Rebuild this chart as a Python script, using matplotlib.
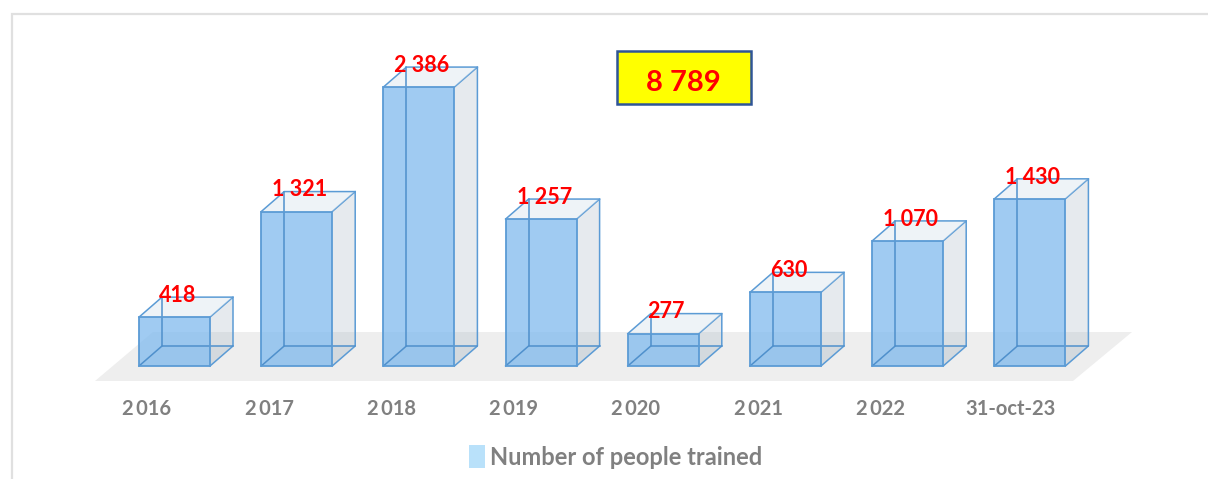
import matplotlib
matplotlib.use('Agg')
import matplotlib.pyplot as plt
from matplotlib.patches import Polygon, Rectangle, Patch
from matplotlib.transforms import Affine2D

# values
categories = ['2\u2009016', '2\u2009017', '2\u2009018', '2\u2009019', '2\u2009020', '2\u2009021', '2\u2009022', '31-oct-23']
people_trained = [418, 1321, 2386, 1257, 277, 630, 1070, 1430]
value_labels = ['418', '1 321', '2 386', '1 257', '277', '630', '1 070', '1 430']
total_label = '8 789'
legend_label = 'Number of people trained'

W, H = 1208, 479
plt.rcParams['font.family'] = ['Lato', 'DejaVu Sans']

fig = plt.figure(figsize=(W / 100, H / 100), dpi=100)
ax = fig.add_axes([0, 0, 1, 1])

# axis limits chosen so bars land where they do in the picture
x0, x_step = 174.5, 122.2
y0, y_scale = 366, 0.1169
ax.set_xlim(-x0 / x_step, (W - x0) / x_step)
ax.set_ylim((y0 - H) / y_scale, y0 / y_scale)
ax.axis('off')

# pixel coords with the origin top left, for the frame, floor and total box
px = Affine2D().scale(1, -1).translate(0, H)

edge = '#5b9bd5'
bar_w = 71 / x_step
dx = 23 / x_step
dy = 20 / y_scale

# outer frame
ax.add_patch(Polygon([(12, 479), (12, 14), (1208, 14)], closed=False, fill=False,
                     edgecolor='#e0e0e0', linewidth=1.6, transform=px, zorder=1))

# floor
ax.add_patch(Polygon([(95, 381), (153, 332), (1132, 332), (1073, 381)], closed=True,
                     facecolor='#eeeeee', edgecolor='none', transform=px, zorder=1))

for i, v in enumerate(people_trained):
    l = i - bar_w / 2
    r = i + bar_w / 2
    # floor of the box
    ax.add_patch(Polygon([(l, 0), (r, 0), (r + dx, dy), (l + dx, dy)], facecolor='#a6b7c5',
                         alpha=0.12, edgecolor='none', zorder=2))
    # right side
    ax.add_patch(Polygon([(r, 0), (r + dx, dy), (r + dx, v + dy), (r, v)], facecolor='#a6b7c5',
                         alpha=0.28, edgecolor='none', zorder=3))
    ax.plot([r, r + dx, r + dx, r], [0, dy, v + dy, v], color=edge, lw=1.1, zorder=3)
    # top
    ax.add_patch(Polygon([(l, v), (r, v), (r + dx, v + dy), (l + dx, v + dy)], facecolor='#d5e2ec',
                         alpha=0.4, edgecolor='none', zorder=3))
    ax.plot([l, l + dx, r + dx], [v, v + dy, v + dy], color=edge, lw=1.1, zorder=3)
    # front
    ax.bar(i, v, width=bar_w, color='#80baee', alpha=0.75, zorder=4)
    # back edges show through the front face
    ax.plot([l + dx, l + dx, r + dx], [v + dy, dy, dy], color='#4f90cc', lw=1.1, zorder=5)
    ax.plot([l, l + dx], [0, dy], color='#4f90cc', lw=1.1, zorder=5)
    ax.add_patch(Rectangle((l, 0), bar_w, v, fill=False, edgecolor=edge, lw=1.3, zorder=5))
    # value label
    ax.text(i + 0.025, v + dy + 15, value_labels[i], color='#ff0000', fontsize=15.5, fontweight='bold',
            ha='center', va='center', zorder=6)
    # category label
    label_x = i - 0.225 if i < 7 else i - 0.155
    ax.text(label_x, -368, categories[i], color='#808080', fontsize=14.5, fontweight='bold',
            ha='center', va='center', zorder=6)

# total box
ax.add_patch(Rectangle((617, 51), 134, 53, facecolor='#ffff00', edgecolor='#2f5597', lw=1.8,
                       transform=px, zorder=6))
ax.text(683, 83, total_label, color='#ff0000', fontsize=21, fontweight='bold', ha='center', va='center',
        transform=px, zorder=7)

handles = [Patch(facecolor='#b9e1fa', edgecolor='none', label=legend_label)]
leg = ax.legend(handles=handles, loc='center', bbox_to_anchor=(615.5 / W, 1 - 457 / H), frameon=False,
                prop={'size': 17, 'weight': 'bold'}, labelcolor='#808080', handlelength=0.7,
                handleheight=1.1, handletextpad=0.2)

fig.savefig('out.png', dpi=100, facecolor='white')
